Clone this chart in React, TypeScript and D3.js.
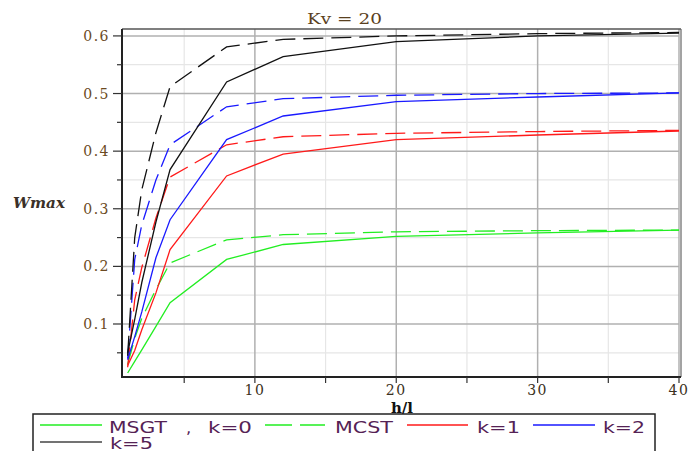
import React from 'react';
import * as d3 from 'd3';

// h/l values (x axis)
const hl = [1, 1.5, 2, 3, 4, 8, 12, 20, 30, 40];

// MSGT (solid lines)
const msgtK0 = [0.015, 0.035, 0.055, 0.096, 0.137, 0.212, 0.238, 0.252, 0.258, 0.263];
const msgtK1 = [0.028, 0.054, 0.09, 0.154, 0.229, 0.357, 0.395, 0.42, 0.428, 0.435];
const msgtK2 = [0.038, 0.078, 0.121, 0.215, 0.281, 0.42, 0.461, 0.486, 0.494, 0.501];
const msgtK5 = [0.05, 0.108, 0.172, 0.277, 0.368, 0.52, 0.564, 0.59, 0.6, 0.605];

// MCST (dashed lines)
const mcstK0 = [0.03, 0.075, 0.11, 0.16, 0.206, 0.246, 0.255, 0.26, 0.262, 0.263];
const mcstK1 = [0.025, 0.142, 0.198, 0.284, 0.355, 0.411, 0.425, 0.431, 0.434, 0.436];
const mcstK2 = [0.04, 0.212, 0.272, 0.35, 0.411, 0.477, 0.491, 0.497, 0.5, 0.501];
const mcstK5 = [0.045, 0.25, 0.333, 0.432, 0.512, 0.581, 0.594, 0.6, 0.604, 0.606];

const xMajor = [10, 20, 30, 40];
const xMinor = [5, 15, 25, 35];
const yMajor = [0.1, 0.2, 0.3, 0.4, 0.5, 0.6];
const yMinor = [0.05, 0.15, 0.25, 0.35, 0.45, 0.55];

const GREEN = '#22ee22';
const RED = '#ff1a1a';
const BLUE = '#1a1aff';
const BLACK = '#111111';

const series = [
  { values: msgtK0, color: GREEN, dashed: false },
  { values: mcstK0, color: GREEN, dashed: true },
  { values: msgtK1, color: RED, dashed: false },
  { values: mcstK1, color: RED, dashed: true },
  { values: msgtK2, color: BLUE, dashed: false },
  { values: mcstK2, color: BLUE, dashed: true },
  { values: msgtK5, color: BLACK, dashed: false },
  { values: mcstK5, color: BLACK, dashed: true },
];

const left = 122, right = 679, top = 29, bottom = 377;

export default function App() {
  const x = d3.scaleLinear().domain([0.6, 40]).range([left, right]);
  const y = d3.scaleLinear().domain([0.008, 0.612]).range([bottom, top]);
  const line = d3
    .line<number>()
    .x((_, i) => x(hl[i]))
    .y((d) => y(d));

  const serif = '"DejaVu Serif", serif';
  const sans = '"DejaVu Sans", sans-serif';
  const legendColor = '#552255';
  const lf = 16.5;

  return (
    <svg
      width={691}
      height={451}
      style={{ position: 'absolute', left: 0, top: 0, background: '#fff' }}
    >
      {/* minor grid */}
      {xMinor.map((t) => (
        <line key={'xm' + t} x1={x(t)} x2={x(t)} y1={top} y2={bottom} stroke="#e6e6e6" strokeWidth={1.2} />
      ))}
      {yMinor.map((t) => (
        <line key={'ym' + t} x1={left} x2={right} y1={y(t)} y2={y(t)} stroke="#e6e6e6" strokeWidth={1.2} />
      ))}
      {/* major grid */}
      {xMajor.map((t) => (
        <line key={'xM' + t} x1={x(t)} x2={x(t)} y1={top} y2={bottom} stroke="#b0b0b0" strokeWidth={1.5} />
      ))}
      {yMajor.map((t) => (
        <line key={'yM' + t} x1={left} x2={right} y1={y(t)} y2={y(t)} stroke="#b0b0b0" strokeWidth={1.5} />
      ))}

      {/* frame */}
      <line x1={left} x2={right + 2} y1={top} y2={top} stroke="#555" strokeWidth={1.5} />
      <line x1={right + 2} x2={right + 2} y1={top} y2={bottom} stroke="#666" strokeWidth={1.2} />
      <line x1={left} x2={left} y1={top} y2={bottom + 1} stroke="#222" strokeWidth={2} />
      <line x1={left} x2={right + 2} y1={bottom} y2={bottom} stroke="#222" strokeWidth={2} />

      {/* y ticks */}
      {yMajor.map((t) => (
        <g key={'yt' + t}>
          <line x1={left - 9} x2={left} y1={y(t)} y2={y(t)} stroke="#333" strokeWidth={1.2} />
          <text
            x={110}
            y={y(t)}
            textAnchor="end"
            dominantBaseline="central"
            fontFamily={serif}
            fontSize={14}
            letterSpacing={1.5}
            fill="#6b4a22"
          >
            {t.toFixed(1)}
          </text>
        </g>
      ))}
      {yMinor.map((t) => (
        <line key={'ymt' + t} x1={left - 5} x2={left} y1={y(t)} y2={y(t)} stroke="#333" strokeWidth={1.2} />
      ))}

      {/* x ticks */}
      {xMinor.concat(xMajor).map((t) => (
        <line key={'xt' + t} x1={x(t)} x2={x(t)} y1={bottom} y2={bottom + 6} stroke="#333" strokeWidth={1.2} />
      ))}
      {xMajor.map((t) => (
        <text
          key={'xl' + t}
          x={x(t)}
          y={395}
          textAnchor="middle"
          fontFamily={serif}
          fontSize={14}
          letterSpacing={1.5}
          fill="#3a3020"
        >
          {t}
        </text>
      ))}

      {/* series */}
      {series.map((s, i) => (
        <path
          key={i}
          d={line(s.values) || ''}
          fill="none"
          stroke={s.color}
          strokeWidth={1.3}
          strokeDasharray={s.dashed ? '20 8' : undefined}
        />
      ))}

      {/* titles */}
      <text
        x={307}
        y={24}
        fontFamily={serif}
        fontSize={15}
        textLength={75}
        lengthAdjust="spacingAndGlyphs"
        fill="#5a4020"
      >
        Kv = 20
      </text>
      <text
        x={13}
        y={208}
        fontFamily={serif}
        fontSize={14}
        fontWeight="bold"
        fontStyle="italic"
        textLength={52}
        lengthAdjust="spacingAndGlyphs"
        fill="#3a3028"
      >
        Wmax
      </text>
      <text x={402} y={413} textAnchor="middle" fontFamily={serif} fontSize={15} fontWeight="bold" fill="#111">
        h/l
      </text>

      {/* legend */}
      <rect x={33} y={414} width={622} height={45} fill="#fff" stroke="#222" strokeWidth={1.5} />
      <line x1={40} x2={102} y1={425} y2={425} stroke={GREEN} strokeWidth={1.3} />
      <text x={109} y={433} fontFamily={sans} fontSize={lf} fill={legendColor} textLength={58} lengthAdjust="spacingAndGlyphs">MSGT</text>
      <text x={186} y={433} fontFamily={sans} fontSize={lf} fill={legendColor}>,</text>
      <text x={208} y={433} fontFamily={sans} fontSize={lf} fill={legendColor} textLength={44} lengthAdjust="spacingAndGlyphs">k=0</text>
      <line x1={265} x2={325} y1={425} y2={425} stroke={GREEN} strokeWidth={1.3} strokeDasharray="27 8" />
      <text x={335} y={433} fontFamily={sans} fontSize={lf} fill={legendColor} textLength={58} lengthAdjust="spacingAndGlyphs">MCST</text>
      <line x1={407} x2={468} y1={425} y2={425} stroke={RED} strokeWidth={1.3} />
      <text x={477} y={433} fontFamily={sans} fontSize={lf} fill={legendColor} textLength={43} lengthAdjust="spacingAndGlyphs">k=1</text>
      <line x1={533} x2={595} y1={425} y2={425} stroke={BLUE} strokeWidth={1.3} />
      <text x={603} y={433} fontFamily={sans} fontSize={lf} fill={legendColor} textLength={42} lengthAdjust="spacingAndGlyphs">k=2</text>
      <line x1={40} x2={102} y1={442} y2={442} stroke="#444" strokeWidth={1.3} />
      <text x={110} y={449} fontFamily={sans} fontSize={lf} fill={legendColor} textLength={43} lengthAdjust="spacingAndGlyphs">k=5</text>
    </svg>
  );
}
